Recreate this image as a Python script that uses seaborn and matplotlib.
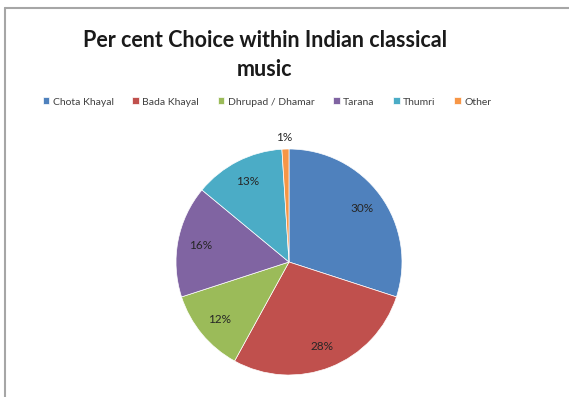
# Per cent choice within Indian classical music - pie chart

import matplotlib
matplotlib.use("Agg")
import matplotlib.pyplot as plt
import seaborn as sns
from matplotlib.lines import Line2D

sns.set_theme(style="white")
plt.rcParams['font.family'] = ['Lato', 'DejaVu Sans']

# Data

categories = ["Chota Khayal", "Bada Khayal", "Dhrupad / Dhamar", "Tarana", "Thumri", "Other"]
percent = [30, 28, 12, 16, 13, 1]
colors = ["#4F81BD", "#C0504D", "#9BBB59", "#8064A2", "#4BACC6", "#F79646"]

# Figure

W, H = 569, 397
fig = plt.figure(figsize=(W / 100, H / 100), dpi=100)
fig.patch.set_facecolor("white")

# chart border (only top and left edges visible)
bx, by = 5 / W, 1 - 8 / H
fig.lines.append(Line2D([bx, 1.0], [by, by], transform=fig.transFigure,
                        color="#a6a6a6", linewidth=1.5))
fig.lines.append(Line2D([bx, bx], [0.0, by], transform=fig.transFigure,
                        color="#a6a6a6", linewidth=1.5))

cx, cy, r = 289, 262, 113
ax = fig.add_axes([(cx - r) / W, (H - cy - r) / H, 2 * r / W, 2 * r / H])

wedges, texts, autotexts = ax.pie(
    percent,
    colors=colors,
    startangle=90,
    counterclock=False,
    autopct="%d%%",
    pctdistance=0.8,
    wedgeprops=dict(linewidth=0.5, edgecolor="white"),
    textprops=dict(color="#262626", fontsize=8.5),
)

# small slice label sits outside
autotexts[-1].set_position((-0.04, 1.1))

ax.set_xlim(-1, 1)
ax.set_ylim(-1, 1)
ax.set_aspect("equal")
ax.axis("off")

fig.text(265 / W, 1 - 55 / H, "Per cent Choice within Indian classical\nmusic",
         ha="center", va="center", fontsize=15.5, fontweight="bold",
         color="#1a1a1a", linespacing=1.45)

fig.legend(wedges, categories, loc="center", bbox_to_anchor=(267 / W, 1 - 102 / H),
           ncol=6, frameon=False, fontsize=7.5, handlelength=0.65, handleheight=0.65,
           handletextpad=0.3, columnspacing=1.8, labelcolor="#404040")

plt.savefig("out.png", dpi=100)
